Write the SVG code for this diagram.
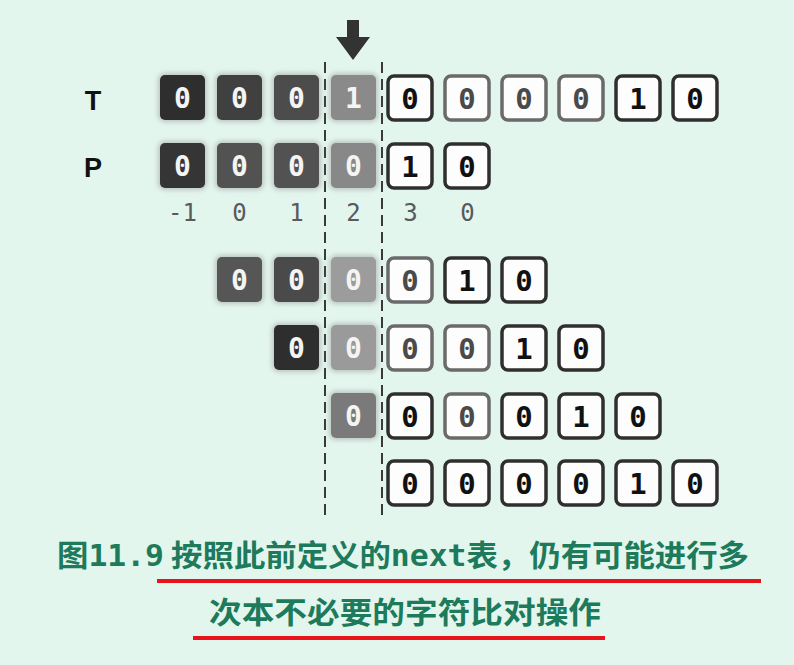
<svg xmlns="http://www.w3.org/2000/svg" width="794" height="665" viewBox="0 0 794 665">
<defs>
<filter id="halo" x="-30%" y="-30%" width="160%" height="160%"><feGaussianBlur stdDeviation="2.5"/></filter>
</defs>
<style>
.bg{fill:#e3f6ee}
.g rect.h{fill:#9a9a9a;opacity:0.55;filter:url(#halo)}
.g text{fill:#f4f4f4;font-family:"DejaVu Sans Mono","Liberation Mono",monospace;font-size:28px;font-weight:bold;text-anchor:middle}
.w rect{fill:#fdfdfd;stroke:#2f2f2f;stroke-width:3.5}
.w text{fill:#111;font-family:"DejaVu Sans Mono","Liberation Mono",monospace;font-size:29px;font-weight:bold;text-anchor:middle}
.f rect{stroke:#6a6a6a}
.f text{fill:#4a4a4a}
.lbl{font-family:"Liberation Sans","DejaVu Sans",sans-serif;font-weight:bold;font-size:27px;fill:#111;text-anchor:middle}
.idx{font-family:"DejaVu Sans Mono","Liberation Mono",monospace;font-size:24px;fill:#5a5a5a;text-anchor:middle}
.dash{stroke:#3a3a3a;stroke-width:2;stroke-dasharray:11 6}
.cap{font-family:"Noto Sans CJK SC","DejaVu Sans Mono",sans-serif;font-weight:bold;font-size:30px;fill:#1d7a5b}
.mono{font-family:"DejaVu Sans Mono","Liberation Mono",monospace}
.red{stroke:#e8141a;stroke-width:4}
</style>
<rect class="bg" x="0" y="0" width="794" height="665"/>

<g id="labels">
<text class="lbl" x="93" y="110">T</text>
<text class="lbl" x="93" y="177">P</text>
</g>

<g id="connectors">
<line class="dash" x1="325" y1="62" x2="325" y2="515"/>
<line class="dash" x1="382" y1="62" x2="382" y2="515"/>
<path d="M347 20 H359 V37 H370 L353 60 L336 37 H347 Z" fill="#333"/>
</g>

<!-- T row -->
<g id="rowT">
<g class="g" id="T0"><rect class="h" x="158" y="73" width="49" height="49" rx="7"/><rect x="160" y="75" width="45" height="45" rx="5" fill="#2e2e2e"/><text x="182.5" y="108">0</text></g>
<g class="g" id="T1"><rect class="h" x="215" y="73" width="49" height="49" rx="7"/><rect x="217" y="75" width="45" height="45" rx="5" fill="#404040"/><text x="239.5" y="108">0</text></g>
<g class="g" id="T2"><rect class="h" x="272" y="73" width="49" height="49" rx="7"/><rect x="274" y="75" width="45" height="45" rx="5" fill="#4c4c4c"/><text x="296.5" y="108">0</text></g>
<g class="g" id="T3"><rect class="h" x="329" y="73" width="49" height="49" rx="7"/><rect x="331" y="75" width="45" height="45" rx="5" fill="#8a8a8a"/><text x="353.5" y="108">1</text></g>
<g class="w" id="T4"><rect x="388" y="76" width="44" height="44" rx="6"/><text x="410" y="109">0</text></g>
<g class="w f" id="T5"><rect x="445" y="76" width="44" height="44" rx="6"/><text x="467" y="109">0</text></g>
<g class="w f" id="T6"><rect x="502" y="76" width="44" height="44" rx="6"/><text x="524" y="109">0</text></g>
<g class="w f" id="T7"><rect x="559" y="76" width="44" height="44" rx="6"/><text x="581" y="109">0</text></g>
<g class="w" id="T8"><rect x="616" y="76" width="44" height="44" rx="6"/><text x="638" y="109">1</text></g>
<g class="w" id="T9"><rect x="673" y="76" width="44" height="44" rx="6"/><text x="695" y="109">0</text></g>
</g>

<!-- P row -->
<g id="rowP">
<g class="g" id="P0"><rect class="h" x="158" y="141" width="49" height="49" rx="7"/><rect x="160" y="143" width="45" height="45" rx="5" fill="#353535"/><text x="182.5" y="176">0</text></g>
<g class="g" id="P1"><rect class="h" x="215" y="141" width="49" height="49" rx="7"/><rect x="217" y="143" width="45" height="45" rx="5" fill="#525252"/><text x="239.5" y="176">0</text></g>
<g class="g" id="P2"><rect class="h" x="272" y="141" width="49" height="49" rx="7"/><rect x="274" y="143" width="45" height="45" rx="5" fill="#525252"/><text x="296.5" y="176">0</text></g>
<g class="g" id="P3"><rect class="h" x="329" y="141" width="49" height="49" rx="7"/><rect x="331" y="143" width="45" height="45" rx="5" fill="#888"/><text x="353.5" y="176">0</text></g>
<g class="w" id="P4"><rect x="388" y="144" width="44" height="44" rx="6"/><text x="410" y="177">1</text></g>
<g class="w" id="P5"><rect x="445" y="144" width="44" height="44" rx="6"/><text x="467" y="177">0</text></g>
</g>

<g id="indices">
<text class="idx" x="182.5" y="221">-1</text>
<text class="idx" x="239.5" y="221">0</text>
<text class="idx" x="296.5" y="221">1</text>
<text class="idx" x="353.5" y="221">2</text>
<text class="idx" x="410.5" y="221">3</text>
<text class="idx" x="467.5" y="221">0</text>
</g>

<!-- Row 3 -->
<g id="row3">
<g class="g" id="R3_1"><rect class="h" x="215" y="255" width="49" height="49" rx="7"/><rect x="217" y="257" width="45" height="45" rx="5" fill="#565656"/><text x="239.5" y="290">0</text></g>
<g class="g" id="R3_2"><rect class="h" x="272" y="255" width="49" height="49" rx="7"/><rect x="274" y="257" width="45" height="45" rx="5" fill="#4a4a4a"/><text x="296.5" y="290">0</text></g>
<g class="g" id="R3_3"><rect class="h" x="329" y="255" width="49" height="49" rx="7"/><rect x="331" y="257" width="45" height="45" rx="5" fill="#9c9c9c"/><text x="353.5" y="290">0</text></g>
<g class="w f" id="R3_4"><rect x="388" y="258" width="44" height="44" rx="6"/><text x="410" y="291">0</text></g>
<g class="w" id="R3_5"><rect x="445" y="258" width="44" height="44" rx="6"/><text x="467" y="291">1</text></g>
<g class="w" id="R3_6"><rect x="502" y="258" width="44" height="44" rx="6"/><text x="524" y="291">0</text></g>
</g>

<!-- Row 4 -->
<g id="row4">
<g class="g" id="R4_2"><rect class="h" x="272" y="323" width="49" height="49" rx="7"/><rect x="274" y="325" width="45" height="45" rx="5" fill="#2e2e2e"/><text x="296.5" y="358">0</text></g>
<g class="g" id="R4_3"><rect class="h" x="329" y="323" width="49" height="49" rx="7"/><rect x="331" y="325" width="45" height="45" rx="5" fill="#9a9a9a"/><text x="353.5" y="358">0</text></g>
<g class="w f" id="R4_4"><rect x="388" y="326" width="44" height="44" rx="6"/><text x="410" y="359">0</text></g>
<g class="w f" id="R4_5"><rect x="445" y="326" width="44" height="44" rx="6"/><text x="467" y="359">0</text></g>
<g class="w" id="R4_6"><rect x="502" y="326" width="44" height="44" rx="6"/><text x="524" y="359">1</text></g>
<g class="w" id="R4_7"><rect x="559" y="326" width="44" height="44" rx="6"/><text x="581" y="359">0</text></g>
</g>

<!-- Row 5 -->
<g id="row5">
<g class="g" id="R5_3"><rect class="h" x="329" y="391" width="49" height="49" rx="7"/><rect x="331" y="393" width="45" height="45" rx="5" fill="#7a7a7a"/><text x="353.5" y="426">0</text></g>
<g class="w" id="R5_4"><rect x="388" y="394" width="44" height="44" rx="6"/><text x="410" y="427">0</text></g>
<g class="w f" id="R5_5"><rect x="445" y="394" width="44" height="44" rx="6"/><text x="467" y="427">0</text></g>
<g class="w" id="R5_6"><rect x="502" y="394" width="44" height="44" rx="6"/><text x="524" y="427">0</text></g>
<g class="w" id="R5_7"><rect x="559" y="394" width="44" height="44" rx="6"/><text x="581" y="427">1</text></g>
<g class="w" id="R5_8"><rect x="616" y="394" width="44" height="44" rx="6"/><text x="638" y="427">0</text></g>
</g>

<!-- Row 6 -->
<g id="row6">
<g class="w" id="R6_4"><rect x="388" y="461" width="44" height="44" rx="6"/><text x="410" y="494">0</text></g>
<g class="w" id="R6_5"><rect x="445" y="461" width="44" height="44" rx="6"/><text x="467" y="494">0</text></g>
<g class="w" id="R6_6"><rect x="502" y="461" width="44" height="44" rx="6"/><text x="524" y="494">0</text></g>
<g class="w" id="R6_7"><rect x="559" y="461" width="44" height="44" rx="6"/><text x="581" y="494">0</text></g>
<g class="w" id="R6_8"><rect x="616" y="461" width="44" height="44" rx="6"/><text x="638" y="494">1</text></g>
<g class="w" id="R6_9"><rect x="673" y="461" width="44" height="44" rx="6"/><text x="695" y="494">0</text></g>
</g>

<g id="caption">
<text class="cap" x="57" y="566" textLength="692" lengthAdjust="spacingAndGlyphs">图<tspan class="mono">11.9</tspan> 按照此前定义的<tspan class="mono">next</tspan>表，仍有可能进行多</text>
<text class="cap" x="209" y="623" textLength="392" lengthAdjust="spacingAndGlyphs">次本不必要的字符比对操作</text>
<line class="red" x1="157" y1="581" x2="761" y2="581"/>
<line class="red" x1="193" y1="638" x2="605" y2="638"/>
</g>
</svg>
